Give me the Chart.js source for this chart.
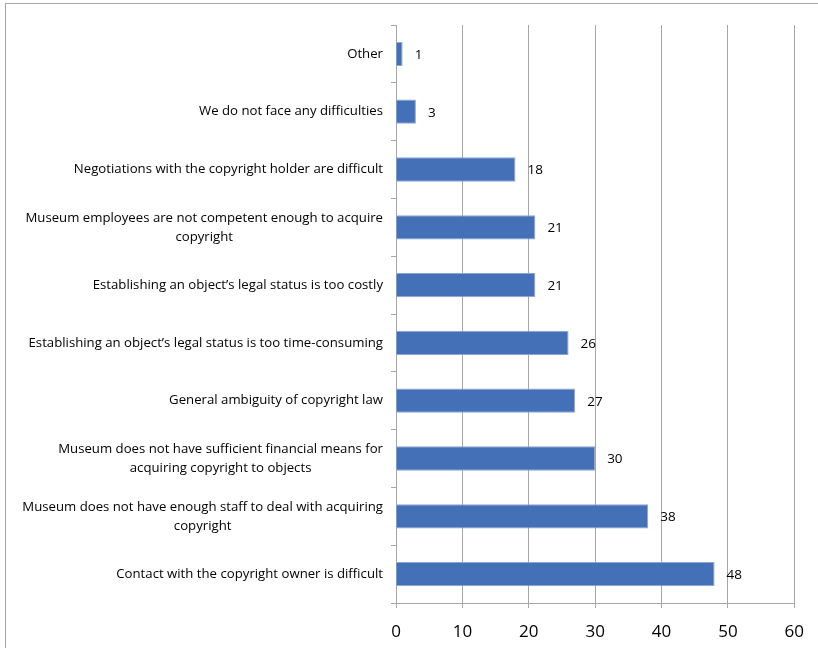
<!DOCTYPE html>
<html lang="en">
<head>
    <meta charset="UTF-8">
    <title>Copyright difficulties</title>
    <script src="https://cdn.jsdelivr.net/npm/chart.js"></script>
    <style>
        body {
            margin: 0;
            background: #ffffff;
            overflow: hidden;
        }
        /* outer chart frame, right and bottom edges fall off the page */
        .frame {
            position: absolute;
            left: 5px;
            top: 3px;
            width: 900px;
            height: 800px;
            border: 1px solid #a6a6a6;
        }
        .chart-box {
            position: absolute;
            left: 0;
            top: 0;
            width: 818px;
            height: 648px;
        }
    </style>
</head>
<body>
    <div class="frame"></div>
    <div class="chart-box">
        <canvas id="diffChart"></canvas>
    </div>

    <script>
        // categories, top to bottom
        const categories = [
            ["Other"],
            ["We do not face any difficulties"],
            ["Negotiations with the copyright holder are difficult"],
            ["Museum employees are not competent enough to acquire", "copyright"],
            ["Establishing an object\u2019s legal status is too costly"],
            ["Establishing an object\u2019s legal status is too time-consuming"],
            ["General ambiguity of copyright law"],
            ["Museum does not have sufficient financial means for", "acquiring copyright to objects"],
            ["Museum does not have enough staff to deal with acquiring", "copyright"],
            ["Contact with the copyright owner is difficult"]
        ];
        const counts = [1, 3, 18, 21, 21, 26, 27, 30, 38, 48];
        const xTicks = [0, 10, 20, 30, 40, 50, 60];

        const labelFont = '13.2px "Open Sans", sans-serif';

        // draws the category labels (centered lines, right-aligned block) and the value labels
        const textPlugin = {
            id: "textPlugin",
            afterDraw(chart) {
                const ctx = chart.ctx;
                const yScale = chart.scales.y;
                const meta = chart.getDatasetMeta(0);
                ctx.save();
                ctx.fillStyle = "#000000";
                ctx.font = labelFont;
                ctx.textBaseline = "middle";
                ctx.textAlign = "center";
                const rightEdge = yScale.right - 13;
                const lineH = 19;
                categories.forEach((lines, i) => {
                    const y = yScale.getPixelForTick(i);
                    const maxW = Math.max(...lines.map(l => ctx.measureText(l).width));
                    const cx = rightEdge - maxW / 2;
                    const top = y - (lines.length - 1) * lineH / 2;
                    lines.forEach((l, j) => ctx.fillText(l, cx, top + j * lineH));
                });
                ctx.textAlign = "left";
                ctx.font = '13.5px "Open Sans", sans-serif';
                meta.data.forEach((bar, i) => {
                    ctx.fillText(String(counts[i]), bar.x + 12, bar.y + 1);
                });
                ctx.restore();
            }
        };

        new Chart(document.getElementById("diffChart"), {
            type: "bar",
            data: {
                labels: categories.map(c => c.join(" ")),
                datasets: [{
                    data: counts,
                    backgroundColor: "#4470b8",
                    borderColor: "#8aa6d8",
                    borderWidth: 1,
                    barPercentage: 0.42,
                    categoryPercentage: 1
                }]
            },
            options: {
                indexAxis: "y",
                responsive: true,
                maintainAspectRatio: false,
                animation: false,
                layout: { padding: { top: 25, right: 23, left: 0, bottom: 0 } },
                plugins: {
                    legend: { display: false },
                    tooltip: { enabled: false }
                },
                scales: {
                    x: {
                        min: 0,
                        max: 60,
                        afterBuildTicks: axis => { axis.ticks = xTicks.map(v => ({ value: v })); },
                        grid: {
                            color: "#a6a6a6",
                            lineWidth: 1,
                            tickLength: 5,
                            drawTicks: true
                        },
                        border: { color: "#a6a6a6" },
                        ticks: {
                            color: "#000000",
                            font: { family: "Open Sans", size: 17 },
                            padding: 14
                        },
                        afterFit: axis => { axis.height = 45; }
                    },
                    y: {
                        grid: {
                            offset: true,
                            drawOnChartArea: false,
                            color: "#a6a6a6",
                            tickLength: 5
                        },
                        border: { color: "#a6a6a6" },
                        ticks: { display: false },
                        afterFit: axis => { axis.width = 396; }
                    }
                }
            },
            plugins: [textPlugin]
        });
    </script>
</body>
</html>
